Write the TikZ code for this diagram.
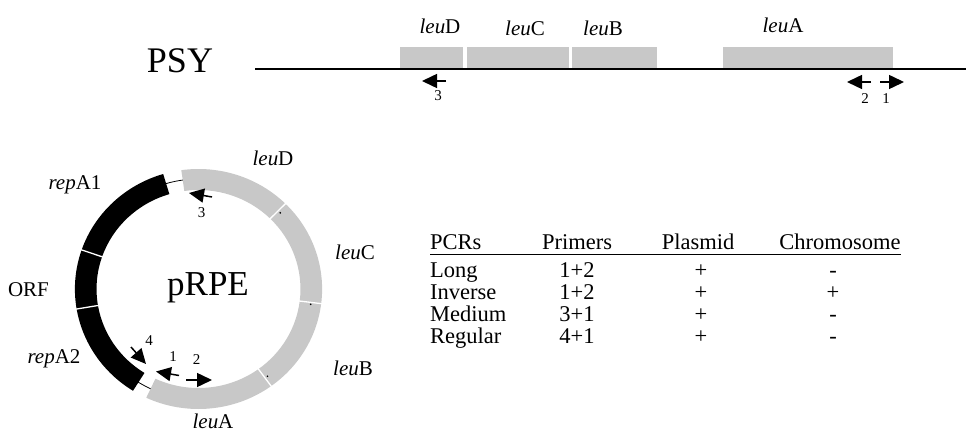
\documentclass[tikz,border=0pt]{standalone}
\usepackage{fontspec}
\setmainfont{Liberation Serif}
\usetikzlibrary{arrows.meta,positioning}
\definecolor{genegray}{RGB}{200,200,200}
\begin{document}
\begin{tikzpicture}[x=1pt, y=-1pt,
        gene/.style   = {fill=genegray},
        sep/.style    = {draw=white, line width=1.3pt},
        primer/.style = {line width=1.5pt,
                         -{Triangle[length=15pt,width=14pt]}},
        lbl/.style    = {inner sep=0pt, anchor=base,
                         font=\fontsize{21}{24}\selectfont},
        num/.style    = {inner sep=0pt, font=\fontsize{15}{17}\selectfont},
        tab/.style    = {inner sep=0pt, anchor=base,
                         font=\fontsize{22.5}{26}\selectfont},
        big/.style    = {inner sep=0pt, anchor=base,
                         font=\fontsize{36}{40}\selectfont}
                                ]
    \useasboundingbox (0,0) rectangle (966,438);
    % chromosome
    \node[big] (psy) at (180,73) {PSY};
    \fill[gene] (400,47) rectangle (463,68);
    \fill[gene] (467,47) rectangle (569,68);
    \fill[gene] (572,47) rectangle (657,68);
    \fill[gene] (723,47) rectangle (893,68);
    \draw[line width=1.5pt] (255,69) coordinate (chrL) -- (966,69) coordinate (chrR);
    \node[lbl] (tleuD) at (440,34) {\textit{leu}D};
    \node[lbl] (tleuC) at (525,36) {\textit{leu}C};
    \node[lbl] (tleuB) at (603,36) {\textit{leu}B};
    \node[lbl] (tleuA) at (783,33) {\textit{leu}A};
    % primers on the chromosome
    \draw[primer] (446,81) coordinate (t3a) -- (422,81) coordinate (t3b);
    \draw[primer] (871,82) coordinate (t2a) -- (847,82) coordinate (t2b);
    \draw[primer] (880,82) coordinate (t1a) -- (904,82) coordinate (t1b);
    \node[num] (t3) at (438,96) {3};
    \node[num] (t2) at (865,99) {2};
    \node[num] (t1) at (886,99) {1};

    % plasmid
    \begin{scope}[shift={(198.5,289)}, xscale=1.03]
        \draw[line width=0.8pt] (0,0) circle[radius=110pt];
        \foreach \a/\b/\c in {45.3/98/genegray, 106.6/161/black, 161/189.6/black,
                              189.6/238/black, 245/306/genegray, 306/353/genegray,
                              353/405.3/genegray}
            \fill[\c] (\a:99pt) arc[start angle=\a, end angle=\b, radius=99pt]
                -- (\b:120pt) arc[start angle=\b, end angle=\a, radius=120pt] -- cycle;
        \foreach \a in {161,189.6,306,353,45.3}
            \draw[sep] (\a:98pt) -- (\a:121pt);
        \foreach \a in {43.8,352,307.5}
            \fill (\a:110pt) circle[radius=0.9pt];
    \end{scope}
    \node[big, font=\fontsize{35}{40}\selectfont] (prpe) at (208,295) {pRPE};
    \node[lbl] (cleuD) at (273,166) {\textit{leu}D};
    \node[lbl] (cleuC) at (355,260) {\textit{leu}C};
    \node[lbl] (cleuB) at (353,375) {\textit{leu}B};
    \node[lbl] (cleuA) at (213,428) {\textit{leu}A};
    \node[lbl] (repA1) at (75,190) {\textit{rep}A1};
    \node[lbl] (orf)   at (28.5,297) {ORF};
    \node[lbl] (repA2) at (54,363) {\textit{rep}A2};
    % primers on the plasmid
    \draw[primer] (212,197) coordinate (c3a) -- (189,193) coordinate (c3b);
    \draw[primer] (131,347) coordinate (c4a) -- (146,364) coordinate (c4b);
    \draw[primer] (179,375.5) coordinate (c1a) -- (156,371.5) coordinate (c1b);
    \draw[primer] (186,380) coordinate (c2a) -- (212,380) coordinate (c2b);
    \node[num] (c3) at (201.7,213) {3};
    \node[num] (c4) at (149,341) {4};
    \node[num] (c1) at (173,357) {1};
    \node[num] (c2) at (196.7,360) {2};

    % table
    \node[tab, anchor=base west] (pcrs) at (430,250) {PCRs};
    \node[tab] (primers) at (577,250) {Primers};
    \node[tab] (plasmid) at (698,250) {Plasmid};
    \node[tab] (chrom)   at (840,250) {Chromosome};
    \draw[line width=0.8pt] ([yshift=-4pt]pcrs.base west)
        -- ([yshift=-4pt]pcrs.base west -| chrom.base east);
    \foreach \pcr/\pr/\pl/\ch [count=\i] in {Long/1+2/+/-, Inverse/1+2/+/+,
                                             Medium/3+1/+/-, Regular/4+1/+/-}{
        \node[tab, anchor=base west] (pcr\i) at (430,{255+22*\i}) {\pcr};
        \node[tab] (pr\i) at (577,{255+22*\i}) {\pr};
        \node[tab] (pl\i) at (701,{255+22*\i}) {\pl};
        \node[tab] (ch\i) at (833,{255+22*\i}) {\ch};
    }
\end{tikzpicture}
\end{document}
